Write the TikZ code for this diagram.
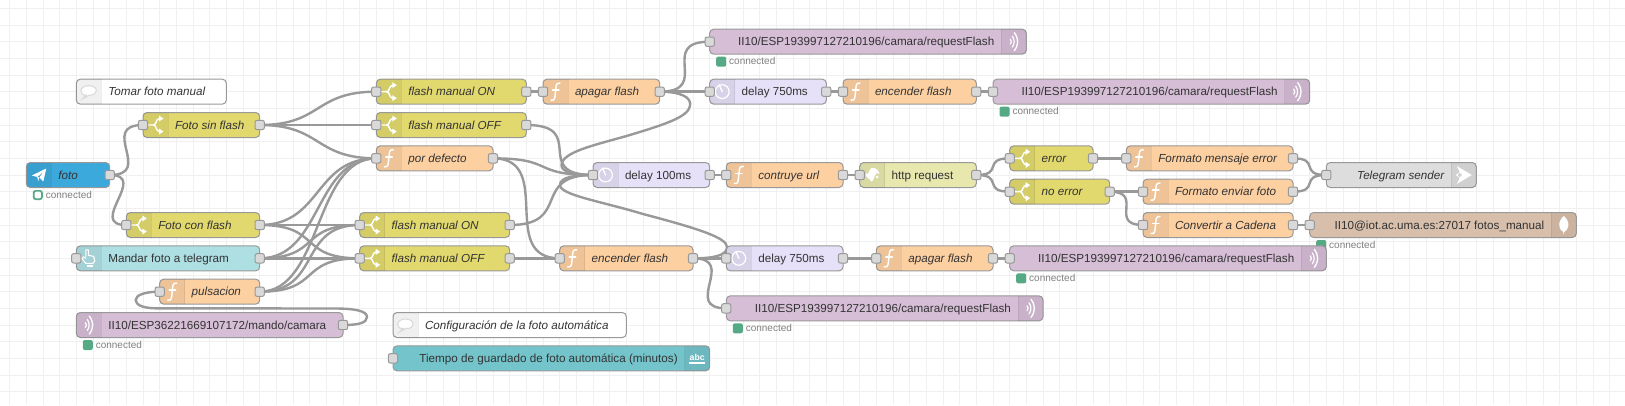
\documentclass[tikz,border=0pt]{standalone}
\usepackage{fontspec}
\setmainfont{Liberation Sans}
\usetikzlibrary{calc}
\definecolor{cSw}{HTML}{E2D96E}
\definecolor{cFn}{HTML}{FDD0A2}
\definecolor{cDl}{HTML}{E6E0F8}
\definecolor{cHt}{HTML}{E7E7AE}
\definecolor{cTg}{HTML}{3CA9DC}
\definecolor{cGy}{HTML}{DDDDDD}
\definecolor{cIn}{HTML}{AEDFE3}
\definecolor{cMq}{HTML}{D6BED6}
\definecolor{cMg}{HTML}{D8BFAB}
\definecolor{cTx}{HTML}{74C4CB}
\definecolor{cSt}{HTML}{55A985}
\definecolor{cTxt}{HTML}{333333}
\pgfdeclarelayer{gridl}
\pgfdeclarelayer{wires}
\pgfsetlayers{gridl,wires,main}
\tikzset{
  nrbox/.style={draw=black!40,line width=.75pt,rounded corners=3pt,inner sep=0pt,outer sep=0pt,
    minimum height=18.75pt,text height=7pt,text depth=.7pt,text=cTxt,
    font=\fontsize{8.75}{10}\selectfont},
  nrport/.style={draw=black!40,fill=black!15,line width=.75pt,rounded corners=1.5pt,inner sep=0pt,outer sep=0pt,minimum size=7pt},
  nrwire/.style={draw=black!40,line width=1.8pt},
  ic/.style={draw=white,line width=1.1pt,line cap=round,line join=round},
  stattext/.style={text=black!50,inner sep=0pt,outer sep=0pt,font=\fontsize{7.5}{9}\selectfont,text height=5pt,text depth=.5pt},
  stat/.style={fill=cSt,rounded corners=1.5pt,inner sep=0pt,outer sep=0pt,minimum size=7.5pt},
  stath/.style={draw=cSt,fill=white,line width=1.3pt,rounded corners=1.5pt,inner sep=0pt,outer sep=0pt,minimum size=6.2pt},
}
% shaded icon areas
\newcommand\shL[1]{\begin{scope}\clip[rounded corners=3pt] (#1.north west) rectangle (#1.south east);
  \fill[black,opacity=.06] (#1.north west) rectangle ($(#1.south west)+(25,0)$);
  \draw[black,opacity=.07,line width=.75pt] ($(#1.north west)+(25,0)$) -- ($(#1.south west)+(25,0)$);\end{scope}}
\newcommand\shR[1]{\begin{scope}\clip[rounded corners=3pt] (#1.north west) rectangle (#1.south east);
  \fill[black,opacity=.06] (#1.north east) rectangle ($(#1.south east)+(-25,0)$);
  \draw[black,opacity=.07,line width=.75pt] ($(#1.north east)+(-25,0)$) -- ($(#1.south east)+(-25,0)$);\end{scope}}
% nodes: name, x1, x2, y, fill, icon, text
\newcommand\nodeL[7]{\pgfmathsetmacro\nrw{(#3-#2)*.75}%
  \node[nrbox,fill=#5,minimum width=\nrw pt] (#1) at ({(#2+#3)/2},#4) {\makebox[\nrw pt][l]{\hspace{24pt}#7}};
  \shL{#1}\begin{scope}[shift={($(#1.west)+(12.5,0)$)}]#6\end{scope}}
\newcommand\nodeR[7]{\pgfmathsetmacro\nrw{(#3-#2)*.75}%
  \node[nrbox,fill=#5,minimum width=\nrw pt] (#1) at ({(#2+#3)/2},#4) {\makebox[\nrw pt][r]{#7\hspace{24pt}}};
  \shR{#1}\begin{scope}[shift={($(#1.east)+(-12.5,0)$)}]#6\end{scope}}
\newcommand\pin[1]{\node[nrport] (#1-i) at (#1.west) {};}
\newcommand\pout[1]{\node[nrport] (#1-o) at (#1.east) {};}
\newcommand\both[1]{\pin{#1}\pout{#1}}
\newcommand\status[1]{\node[stat] (#1-s) at ($(#1.west)+(11.5,20)$) {};
  \node[stattext,anchor=west] (#1-c) at ($(#1.west)+(19.5,20)$) {connected};}
\newcommand\statush[1]{\node[stath] (#1-s) at ($(#1.west)+(11.5,20)$) {};
  \node[stattext,anchor=west] (#1-c) at ($(#1.west)+(19.5,20)$) {connected};}
% icons
\newcommand\icF{\draw[ic] (4.5,-8.5) .. controls (0,-9.5) and (.7,-5) .. (0,0) .. controls (-.7,5) and (0,9.5) .. (-4.5,8.5);
  \draw[ic] (-3,-1.5) -- (3.5,-1.5);}
\newcommand\icS{\draw[ic] (-7,0) -- (-2,0) .. controls (1,0) and (0,-6) .. (4,-6.5);
  \draw[ic] (-2,0) .. controls (1,0) and (0,6) .. (4,6.5);
  \fill[white] (3.5,-9.5) -- (8,-6.5) -- (3.5,-3.5) -- cycle;
  \fill[white] (3.5,9.5) -- (8,6.5) -- (3.5,3.5) -- cycle;}
\newcommand\icC{\draw[ic,line width=.9pt] (0,0) circle[radius=6.9];
  \draw[ic,line width=1pt] (0,0) -- (-3,-7);}
\newcommand\icW{\draw[ic,line width=.9pt] (-3.5,-2.5) .. controls (-2,-1) and (-2,1) .. (-3.5,2.5);
  \draw[ic,line width=.9pt] (-1.5,-5.5) .. controls (1,-2) and (1,2) .. (-1.5,5.5);
  \draw[ic,line width=1pt] (.5,-9) .. controls (5,-3) and (5,3) .. (.5,9);}
\newcommand\icT{\fill[white] (-7,.5) -- (7.5,-6.5) -- (4.5,6.5) -- (.5,2.5) -- (5,-3.5) -- (-1.5,2) -- cycle;\fill[white] (-1.5,2) -- (.5,2.5) -- (-.5,6) -- cycle;}
\newcommand\icH{\draw[ic,line width=.8pt] (-3,-2) -- (-3,-8.5) -- (-.5,-8.5) -- (-.5,-3) -- (5,-2) -- (6,3) -- (4,5) -- (-3,5) -- (-7,0) -- (-5,-1.5) -- (-3,0);
  \fill[white] (-2,6.5) rectangle (4,9);}
\newcommand\icG{\fill[white] (-1,-7) .. controls (4,-8) and (7,-4) .. (7,-1) .. controls (3,-3.5) and (4,0) .. (2.5,1) .. controls (1,6) and (0,7) .. (-1,6.5) .. controls (-2,3) and (-7,3) .. (-6.5,-1) .. controls (-3,0) and (-4,-4) .. (-1,-7) -- cycle;
 \fill[white] (5,2) circle (1.5);}
\newcommand\icB{\draw[black!15,line width=.8pt,fill=white] (0,-6) .. controls (-10,-6) and (-10,4) .. (-2.5,3.5) -- (-6,7) -- (.5,3.5) .. controls (10,4) and (10,-6) .. (0,-6) -- cycle;}
\newcommand\icA{\node[text=white,inner sep=0pt,font=\bfseries\fontsize{6.5}{7}\selectfont] (abctxt) at (0,-1) {abc};
  \fill[white] (-8,4) rectangle (8,5.2);}
\newcommand\icM{\fill[white] (0,-9) .. controls (7,-3) and (5,5) .. (.4,7) -- (.4,9) -- (-.4,9) -- (-.4,7) .. controls (-5,5) and (-7,-3) .. (0,-9) -- cycle;}
\newcommand\icX{\fill[white,even odd rule] (-7,-9) -- (8,0) -- (-7,9) -- (-4,3) -- (-8,0) -- (-4,-3) -- cycle (-4,0) circle (2);}
% wires
\newcommand\wire[2]{\draw[nrwire] let \p1=(#1.east),\p2=(#2.west),\n1={veclen(\x2-\x1,\y2-\y1)},\n2={min(46.875pt,.75*\n1)} in
  (#1.east) .. controls ($(#1.east)+(\n2,0)$) and ($(#2.west)+(-\n2,0)$) .. (#2.west);}
\begin{document}
\begin{tikzpicture}[x=.75pt,y=-.75pt]
\useasboundingbox (0,0) rectangle (1625,405);
\begin{pgfonlayer}{gridl}
\fill[white] (0,0) rectangle (1625,405);
\foreach \k in {0,...,97} {\draw[black!6,line width=.75pt] ({9.67+16.667*\k},0) -- ({9.67+16.667*\k},405);}
\foreach \k in {0,...,23} {\draw[black!6,line width=.75pt] (0,{8.33+16.667*\k}) -- (1625,{8.33+16.667*\k});}
\end{pgfonlayer}
% nodes
\def\itx#1{{\itshape #1}}
\nodeL{cm1}{76.3}{226.3}{91.67}{white}{\icB}{\itx{Tomar foto manual}}
\nodeL{sin}{143}{259.7}{125}{cSw}{\icS}{\itx{Foto sin flash}}
\nodeL{ont}{376.3}{526.3}{91.67}{cSw}{\icS}{\itx{flash manual ON}}
\nodeL{oft}{376.3}{526.3}{125}{cSw}{\icS}{\itx{flash manual OFF}}
\nodeL{pd}{376.3}{493}{158.33}{cFn}{\icF}{\itx{por defecto}}
\nodeL{foto}{26.3}{109.7}{175}{cTg}{\icT}{\itx{foto}}
\nodeL{con}{126.3}{259.7}{225}{cSw}{\icS}{\itx{Foto con flash}}
\nodeL{man}{76.3}{259.7}{258.33}{cIn}{\icH}{Mandar foto a telegram}
\nodeL{pul}{159.7}{259.7}{291.67}{cFn}{\icF}{\itx{pulsacion}}
\nodeL{mi}{76.3}{343}{325}{cMq}{\icW}{II10/ESP36221669107172/mando/camara}
\nodeL{onb}{359.7}{509.7}{225}{cSw}{\icS}{\itx{flash manual ON}}
\nodeL{ofb}{359.7}{509.7}{258.33}{cSw}{\icS}{\itx{flash manual OFF}}
\nodeL{cm2}{393}{626.3}{325}{white}{\icB}{\itx{Configuración de la foto automática}}
\nodeR{tm}{393}{709.7}{358.33}{cTx}{\icA}{Tiempo de guardado de foto automática (minutos)}
\nodeL{apa}{543}{659.7}{91.67}{cFn}{\icF}{\itx{apagar flash}}
\nodeR{mt1}{709.7}{1026.3}{41.67}{cMq}{\icW}{II10/ESP193997127210196/camara/requestFlash}
\nodeL{dt}{709.7}{826.3}{91.67}{cDl}{\icC}{delay 750ms}
\nodeL{ent}{843}{976.3}{91.67}{cFn}{\icF}{\itx{encender flash}}
\nodeR{mt2}{993}{1309.7}{91.67}{cMq}{\icW}{II10/ESP193997127210196/camara/requestFlash}
\nodeL{dh}{593}{709.7}{175}{cDl}{\icC}{delay 100ms}
\nodeL{cu}{726.3}{843}{175}{cFn}{\icF}{\itx{contruye url}}
\nodeL{ht}{859.7}{976.3}{175}{cHt}{\icG}{http request}
\nodeL{er}{1009.7}{1093}{158.33}{cSw}{\icS}{\itx{error}}
\nodeL{ne}{1009.7}{1109.7}{191.67}{cSw}{\icS}{\itx{no error}}
\nodeL{fm}{1126.3}{1293}{158.33}{cFn}{\icF}{\itx{Formato mensaje error}}
\nodeL{fe}{1143}{1293}{191.67}{cFn}{\icF}{\itx{Formato enviar foto}}
\nodeL{cc}{1143}{1293}{225}{cFn}{\icF}{\itx{Convertir a Cadena}}
\nodeR{tg}{1326.3}{1476.3}{175}{cGy}{\icX}{\itx{Telegram sender}}
\nodeR{mg}{1309.7}{1576.3}{225}{cMg}{\icM}{II10@iot.ac.uma.es:27017 fotos\_manual}
\nodeL{enb}{559.7}{693}{258.33}{cFn}{\icF}{\itx{encender flash}}
\nodeL{db}{726.3}{843}{258.33}{cDl}{\icC}{delay 750ms}
\nodeL{apb}{876.3}{993}{258.33}{cFn}{\icF}{\itx{apagar flash}}
\status{mg}
\nodeR{mb1}{1009.7}{1326.3}{258.33}{cMq}{\icW}{II10/ESP193997127210196/camara/requestFlash}
\nodeR{mb2}{726.3}{1043}{308.33}{cMq}{\icW}{II10/ESP193997127210196/camara/requestFlash}
% status
\statush{foto}\status{mi}\status{mt1}\status{mt2}\status{mb1}\status{mb2}
% ports
\pout{foto}\both{sin}\both{con}\pin{man}\pout{man}\both{pul}\pout{mi}
\both{ont}\both{oft}\both{pd}\both{onb}\both{ofb}\both{apa}\both{dt}\both{ent}
\pin{mt1}\pin{mt2}\both{dh}\both{cu}\both{ht}\both{er}\both{ne}\both{fm}\both{fe}\both{cc}
\pin{tg}\pin{mg}\both{enb}\both{db}\both{apb}\pin{mb1}\pin{mb2}\pin{tm}
% wires
\begin{pgfonlayer}{wires}
\wire{foto}{sin}\wire{foto}{con}
\wire{sin}{ont}\wire{sin}{oft}\wire{sin}{pd}
\wire{con}{pd}\wire{con}{onb}\wire{con}{ofb}
\wire{man}{pd}\wire{man}{onb}\wire{man}{ofb}
\wire{pul}{pd}\wire{pul}{onb}\wire{pul}{ofb}
\wire{ont}{apa}\wire{oft}{dh}\wire{pd}{dh}\wire{pd}{enb}\wire{onb}{dh}\wire{ofb}{enb}
\wire{apa}{mt1}\wire{apa}{dt}\wire{dt}{ent}\wire{ent}{mt2}
\wire{enb}{db}\wire{enb}{mb2}\wire{db}{apb}\wire{apb}{mb1}
\wire{dh}{cu}\wire{cu}{ht}\wire{ht}{er}\wire{ht}{ne}
\wire{er}{fm}\wire{ne}{fe}\wire{ne}{cc}\wire{fm}{tg}\wire{fe}{tg}\wire{cc}{mg}
% backward wires
\coordinate (b1a) at (690,106);\coordinate (b1b) at (626.5,136);\coordinate (b1c) at (561.5,165);
\draw[nrwire] (apa.east) .. controls (680,91.67) and (692,97) .. (b1a) .. controls (688,117) and (665,124.5) .. (b1b) .. controls (595,145) and (562,152) .. (b1c) .. controls (561,172) and (575,175) .. (dh.west);
\coordinate (b2a) at (727,247);\coordinate (b2b) at (643,214);\coordinate (b2c) at (560,185);
\draw[nrwire] (enb.east) .. controls (712,258.33) and (727,256) .. (b2a) .. controls (727,238) and (700,229) .. (b2b) .. controls (600,201) and (560,195) .. (b2c) .. controls (560,177) and (575,175) .. (dh.west);
\coordinate (b3a) at (367,317);\coordinate (b3b) at (335,308.5);\coordinate (b3c) at (155,308.3);\coordinate (b3d) at (135.7,300);
\draw[nrwire] (mi.east) .. controls (358,325) and (367,323) .. (b3a) .. controls (367,311) and (355,308.5) .. (b3b) -- (b3c) .. controls (143,308) and (135.7,305) .. (b3d) .. controls (135.7,295) and (145,291.67) .. (pul.west);
\end{pgfonlayer}
\end{tikzpicture}
\end{document}
